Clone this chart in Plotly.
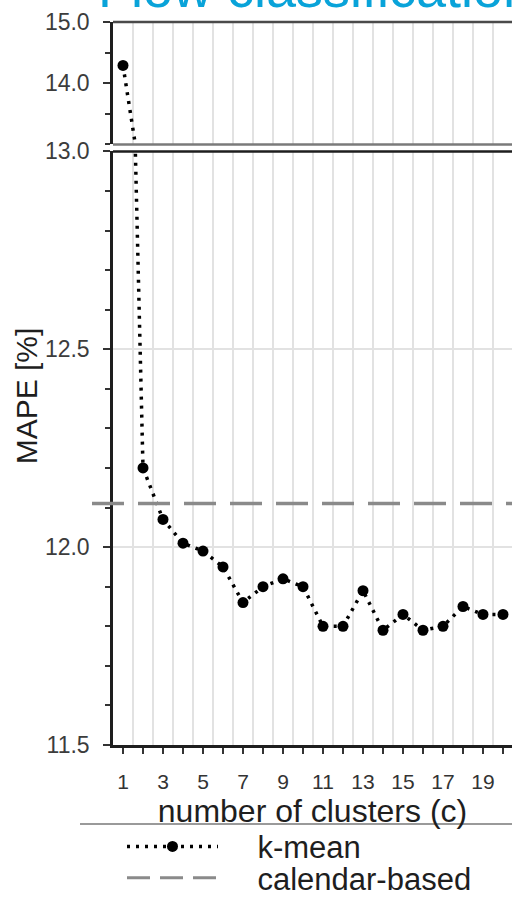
import plotly.graph_objects as go

# ---- data ----
clusters = list(range(1, 21))
kmean_mape = [14.29, 12.20, 12.07, 12.01, 11.99, 11.95, 11.86, 11.90, 11.92, 11.90,
              11.80, 11.80, 11.89, 11.79, 11.83, 11.79, 11.80, 11.85, 11.83, 11.83]
calendar_mape = [12.11]
x_tick_vals = list(range(1, 21))
x_tick_text = [str(v) if v % 2 == 1 else "" for v in x_tick_vals]
y_low_ticks = [11.5, 12.0, 12.5, 13.0]
y_high_ticks = [14.0, 15.0]

W, H = 512, 905
L, R, T, B = 113, 0, 22, 151
plot_h = H - T - B  # 732

FONT = "Liberation Sans, Arial, sans-serif"
BLACK = "#1e1e1e"
GRID = "#e2e2e2"
NB = "\u00a0"

fig = go.Figure()

line_style = dict(color="black", width=3.5, dash="3px,6px")
marker_style = dict(color="black", size=11)

fig.add_trace(go.Scatter(x=clusters, y=kmean_mape, mode="lines+markers",
                         line=line_style, marker=marker_style, name=NB * 4 + "k-mean",
                         xaxis="x", yaxis="y", legend="legend", cliponaxis=True))
fig.add_trace(go.Scatter(x=clusters, y=kmean_mape, mode="lines+markers",
                         line=line_style, marker=marker_style, name="k-mean",
                         xaxis="x", yaxis="y2", showlegend=False, cliponaxis=True))
# legend entry for the calendar-based reference line
fig.add_trace(go.Scatter(x=[None], y=[None], mode="lines",
                         line=dict(color="#8a8a8a", width=3, dash="23px,10px"),
                         name=NB * 4 + "calendar-based", xaxis="x", yaxis="y", legend="legend2"))

low_dom = [0, (754 - 153) / plot_h]
high_dom = [(754 - 146) / plot_h, 1]

leg_x = (122 - L) / (W - L)

fig.update_layout(
    width=W, height=H, autosize=False,
    margin=dict(l=L, r=R, t=T, b=B, pad=0),
    paper_bgcolor="white", plot_bgcolor="white",
    font=dict(family=FONT, color=BLACK),
    xaxis=dict(
        domain=[0, 1], anchor="y", range=[0.5, 20.45],
        tickmode="array", tickvals=x_tick_vals, ticktext=x_tick_text,
        ticks="outside", ticklen=6, tickwidth=1.5, tickcolor="#333",
        tickfont=dict(size=21, color="#333", family=FONT),
        ticklabelstandoff=10,
        showgrid=False, zeroline=False,
        showline=True, linecolor=BLACK, linewidth=2.5,
        minor=dict(tick0=0.5, dtick=1, showgrid=True, gridcolor=GRID, gridwidth=1.5, ticks=""),
        title=dict(text="number of clusters (c)", font=dict(size=32, color=BLACK, family=FONT), standoff=3),
    ),
    yaxis=dict(
        domain=low_dom, anchor="x", range=[11.5, 13.0],
        tickmode="array", tickvals=y_low_ticks, ticktext=[f"{v:.1f}" for v in y_low_ticks],
        ticks="outside", ticklen=7, tickwidth=1.5, tickcolor="#333",
        tickfont=dict(size=23, color="#3c3c3c", family=FONT),
        ticklabelstandoff=9,
        showgrid=True, gridcolor=GRID, gridwidth=1.5, zeroline=False,
        showline=True, linecolor=BLACK, linewidth=2.5,
        minor=dict(dtick=0.1, tick0=11.5, ticks="outside", ticklen=5, tickwidth=1.5, tickcolor="#333", showgrid=False),
    ),
    yaxis2=dict(
        domain=high_dom, anchor="x", range=[13.0, 15.0],
        tickmode="array", tickvals=y_high_ticks, ticktext=[f"{v:.1f}" for v in y_high_ticks],
        ticks="outside", ticklen=7, tickwidth=1.5, tickcolor="#333",
        tickfont=dict(size=23, color="#3c3c3c", family=FONT),
        ticklabelstandoff=9,
        showgrid=False, zeroline=False,
        showline=True, linecolor=BLACK, linewidth=2.5,
        minor=dict(dtick=0.5, tick0=13.0, ticks="outside", ticklen=5, tickwidth=1.5, tickcolor="#333", showgrid=False),
    ),
    legend=dict(x=leg_x, xanchor="left", y=(754 - 857) / plot_h, yanchor="middle",
                font=dict(size=31, color=BLACK, family=FONT), bgcolor="rgba(0,0,0,0)",
                itemwidth=91, borderwidth=0),
    legend2=dict(x=leg_x, xanchor="left", y=(754 - 889) / plot_h, yanchor="middle",
                 font=dict(size=31, color=BLACK, family=FONT), bgcolor="rgba(0,0,0,0)",
                 itemwidth=91, borderwidth=0),
    showlegend=True,
)

# calendar-based reference line (value from data, spans plot width and a little beyond the axis)
fig.add_shape(type="line", xref="paper", yref="y",
              x0=(92 - L) / (W - L), x1=1.0, y0=calendar_mape[0], y1=calendar_mape[0],
              line=dict(color="#8a8a8a", width=3.5, dash="32px,14px"), layer="above")

# frame lines of the broken axis
fig.add_shape(type="line", xref="paper", yref="paper", x0=0, x1=1, y0=1, y1=1,
              line=dict(color="#4a4a4a", width=2.5))
fig.add_shape(type="line", xref="paper", yref="paper", x0=0, x1=1, y0=high_dom[0], y1=high_dom[0],
              line=dict(color="#7a7a7a", width=2.5))
fig.add_shape(type="line", xref="paper", yref="paper", x0=0, x1=1, y0=low_dom[1], y1=low_dom[1],
              line=dict(color=BLACK, width=2.5))
# separator above legend
fig.add_shape(type="line", xref="paper", yref="paper", x0=(80 - L) / (W - L), x1=1,
              y0=(754 - 834) / plot_h, y1=(754 - 834) / plot_h,
              line=dict(color="#9a9a9a", width=2))

# y-axis title
fig.add_annotation(text="MAPE [%]", xref="paper", yref="paper",
                   x=(26 - L) / (W - L), y=(754 - 401) / plot_h, textangle=-90,
                   showarrow=False, font=dict(size=30, color=BLACK, family=FONT),
                   xanchor="center", yanchor="middle")
# cropped slide title
fig.add_annotation(text="Flow classification", xref="paper", yref="paper",
                   x=(96 - L) / (W - L), y=(754 - 20) / plot_h, xanchor="left", yanchor="bottom",
                   showarrow=False, font=dict(size=54, color="#09a3d9", family=FONT))

fig.write_html("out.html")
